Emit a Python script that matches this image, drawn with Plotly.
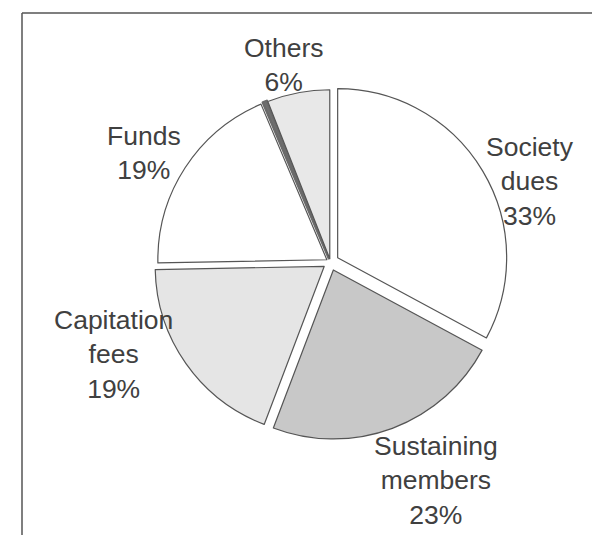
import plotly.graph_objects as go

# Data
categories = ["Society dues", "Sustaining members", "Capitation fees", "Funds", "", "Others"]
values = [33, 23, 19, 19, 0.4, 6]
label_texts = ["Society<br>dues<br>33%", "Sustaining<br>members<br>23%",
               "Capitation<br>fees<br>19%", "Funds<br>19%", "Others<br>6%"]

# Styles
colors = ["#ffffff", "#c8c8c8", "#e5e5e5", "#ffffff", "#707070", "#e8e8e8"]
pulls = [0.05, 0.05, 0.045, 0.025, 0.025, 0.02]
line_widths = [1.2, 1.2, 1.2, 1.2, 2.6, 1.2]
line_colors = ["#555555", "#555555", "#555555", "#555555", "#6a6a6a", "#555555"]
label_pos = [(530, 181), (436, 480), (113, 354), (143.5, 152.5), (284, 65)]

W, H = 592, 535

fig = go.Figure(go.Pie(
    labels=categories,
    values=values,
    sort=False,
    direction="clockwise",
    rotation=0,
    pull=pulls,
    textinfo="none",
    hoverinfo="label+percent",
    marker=dict(colors=colors, line=dict(color=line_colors, width=line_widths)),
    domain=dict(x=[152.95 / W, 507.85 / W], y=[1 - 439.5 / H, 1 - 84.6 / H]),
    showlegend=False,
))

for txt, (px, py) in zip(label_texts, label_pos):
    fig.add_annotation(
        x=px / W, y=1 - py / H, xref="paper", yref="paper",
        text=txt, showarrow=False, xanchor="center", yanchor="middle",
        align="center",
        font=dict(family="Liberation Sans, Arial, sans-serif", size=26.5, color="#404040"),
    )

# Frame (top and left edges visible)
fig.add_shape(type="line", xref="paper", yref="paper",
              x0=22 / W, x1=1.0, y0=1 - 13 / H, y1=1 - 13 / H,
              line=dict(color="#555555", width=1.5))
fig.add_shape(type="line", xref="paper", yref="paper",
              x0=22 / W, x1=22 / W, y0=0.0, y1=1 - 13 / H,
              line=dict(color="#555555", width=1.5))

fig.update_layout(
    width=W, height=H,
    margin=dict(l=0, r=0, t=0, b=0),
    paper_bgcolor="#ffffff",
    plot_bgcolor="#ffffff",
)

fig.write_html("out.html")
